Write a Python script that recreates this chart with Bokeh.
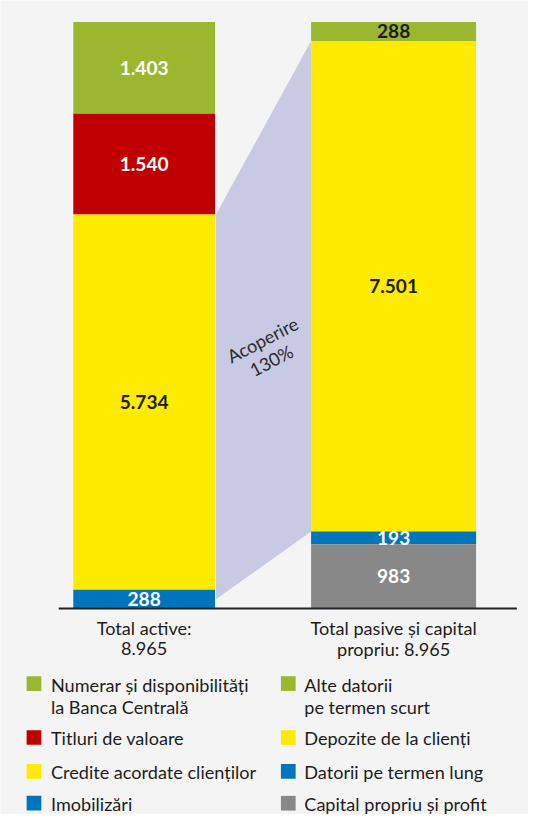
from bokeh.plotting import figure
from bokeh.models import Range1d
from bokeh.core.properties import value
from bokeh.embed import file_html
from bokeh.resources import INLINE

# ---------------- data ----------------
categories = ["Total active:\n8.965", "Total pasive și capital\npropriu: 8.965"]

# listed top to bottom, as in the legend
asset_labels = ["Numerar și disponibilități\nla Banca Centrală", "Titluri de valoare",
                "Credite acordate clienților", "Imobilizări"]
asset_values = [1403, 1540, 5734, 288]
asset_colors = ["#9bb72f", "#c00000", "#ffeb00", "#0075bc"]
asset_text = ["white", "white", "#1c1c1c", "white"]

liab_labels = ["Alte datorii\npe termen scurt", "Depozite de la clienți",
               "Datorii pe termen lung", "Capital propriu și profit"]
liab_values = [288, 7501, 193, 983]
liab_colors = ["#9bb72f", "#ffeb00", "#0075bc", "#888888"]
liab_text = ["#1c1c1c", "#1c1c1c", "white", "white"]

coverage_label = ["Acoperire", "130%"]

# ---------------- layout ----------------
W, H = 528, 814
REF_W, REF_H = 544, 830            # layout designed in these units
BASE = 620                         # layout y of the baseline
K = sum(asset_values) / 598.0      # value units per layout pixel
FONT = value("Lato")
DARK = "#1c1c1c"
BG = "#f4f4f4"
S = H / REF_H


def sy(ly):
    return (BASE - ly) * K


p = figure(width=W, height=H, output_backend="svg", toolbar_location=None,
           x_range=Range1d(0, REF_W), y_range=Range1d(sy(REF_H), sy(0)),
           min_border=0, x_axis_location=None, y_axis_location=None,
           background_fill_color=BG, border_fill_color=BG, outline_line_color=None)
p.xgrid.visible = False
p.ygrid.visible = False

FS_TXT = f"{18.5 * S:.1f}px"
FS_VAL = f"{19.5 * S:.1f}px"


def fmt(v):
    return f"{v:,}".replace(",", ".")


def bottoms_of(vals):
    out, acc = [], 0
    for v in reversed(vals):
        out.append(acc)
        acc += v
    out.reverse()
    return out


def stack(xc, width, vals, colors, tcolors):
    bottoms = bottoms_of(vals)
    tops = [b + v for b, v in zip(bottoms, vals)]
    p.vbar(x=[xc] * len(vals), width=width, bottom=bottoms, top=tops,
           fill_color=colors, line_color=None)
    mids = [(b + t) / 2 for b, t in zip(bottoms, tops)]
    p.text(x=[xc] * len(vals), y=mids, text=[fmt(v) for v in vals],
           text_color=tcolors, text_font=FONT, text_font_style="bold",
           text_font_size=FS_VAL, text_align="center", text_baseline="middle")


LX, LW = 148, 146
RX, RW = 405, 170

# coverage polygon (credits vs deposits)
a_bottoms = bottoms_of(asset_values)
l_bottoms = bottoms_of(liab_values)
credit_top = a_bottoms[2] + asset_values[2]
dep_top = l_bottoms[1] + liab_values[1]
dep_bottom = l_bottoms[1]
left_edge = LX + LW / 2 + 1
right_edge = RX - RW / 2
p.patch(x=[left_edge, right_edge, right_edge, left_edge],
        y=[credit_top, dep_top, dep_bottom, asset_values[3] / 2],
        fill_color="#c8c9e3", line_color=None)

stack(LX, LW, asset_values, asset_colors, asset_text)
stack(RX, RW, liab_values, liab_colors, liab_text)

# coverage text (rotated)
p.text(x=[270, 279], y=[sy(346), sy(367)], text=coverage_label, angle=0.48,
       text_color="#2a2a2a", text_font=FONT, text_font_size=FS_TXT,
       text_align="center", text_baseline="middle")

# baseline
p.segment(x0=[60], y0=[0], x1=[532], y1=[0], line_color="#222222", line_width=2)

# category labels
for xc, lab in zip([LX, RX], categories):
    lines = lab.split("\n")
    p.text(x=[xc] * len(lines), y=[sy(640 + 21 * i) for i in range(len(lines))],
           text=lines, text_color=DARK, text_font=FONT, text_font_size=FS_TXT,
           text_align="center", text_baseline="middle")

# legend
rows = [696.5, 751.5, 786, 818.5]
for sq_x, tx, labels, colors in [(34.5, 52, asset_labels, asset_colors),
                                 (296.5, 313, liab_labels, liab_colors)]:
    p.rect(x=[sq_x] * 4, y=[sy(r) for r in rows], width=15 * S, height=15 * S,
           width_units="screen", height_units="screen",
           fill_color=colors, line_color=None)
    xs, ys, ts = [], [], []
    for r, lab in zip(rows, labels):
        for i, line in enumerate(lab.split("\n")):
            xs.append(tx)
            ys.append(sy(r + 1 + 23 * i))
            ts.append(line)
    p.text(x=xs, y=ys, text=ts, text_color=DARK, text_font=FONT,
           text_font_size=FS_TXT, text_align="left", text_baseline="middle")

open("out.html", "w").write(file_html(p, INLINE))
